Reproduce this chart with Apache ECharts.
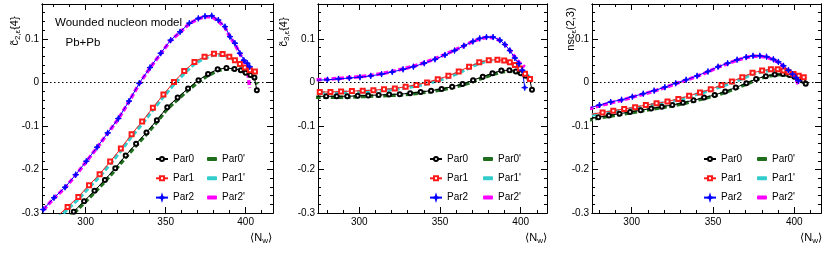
<!DOCTYPE html>
<html><head><meta charset="utf-8">
<script src="https://cdn.jsdelivr.net/npm/echarts@6/dist/echarts.min.js"></script>
<style>html,body{margin:0;padding:0;background:#fff}#c{width:830px;height:256px}</style>
</head><body><div id="c"></div>
<script>
// ---- x positions (<N_w>) of each parameter set ----
const xPar0 = [273, 279.5, 286, 292.5, 299, 305.5, 312, 318.5, 325, 331.5, 338, 344.5, 351, 357.5, 364, 370.5, 376.5, 382.5, 388, 393, 397, 400, 403, 405.5, 407];
const xPar1 = [275.5, 282.1, 288.7, 295.4, 302.1, 308.7, 315.3, 322, 328.7, 335.3, 342, 348.6, 355.2, 361.6, 368, 374.3, 380.2, 385.6, 389.8, 393.3, 396.4, 399.5, 402.7, 405.8];
const xPar2 = [273.5, 280.2, 287.1, 293.8, 300.4, 307.1, 313.8, 320.4, 327.1, 333.5, 340.2, 346.9, 353.1, 359, 364.8, 370.4, 374.6, 378.8, 382.9, 387.1, 390.2, 393.3, 396.4, 398.9, 401, 402.5];

// ---- panel 1: c2,e{4} ----
const c2Par0  = [-0.37, -0.345, -0.321, -0.297, -0.273, -0.249, -0.224, -0.197, -0.168, -0.141, -0.115, -0.087, -0.057, -0.035, -0.014, 0.005, 0.019, 0.030, 0.033, 0.031, 0.028, 0.022, 0.017, 0.011, -0.018];
const c2Par0p = [-0.374, -0.349, -0.325, -0.301, -0.277, -0.253, -0.228, -0.201, -0.172, -0.145, -0.119, -0.091, -0.061, -0.039, -0.018, 0.001, 0.016, 0.027, 0.031, 0.030, 0.027, 0.022, 0.017, 0.011, -0.005];
const c2Par1  = [-0.33, -0.308, -0.286, -0.263, -0.236, -0.211, -0.182, -0.152, -0.119, -0.090, -0.058, -0.028, 0.001, 0.026, 0.047, 0.059, 0.066, 0.065, 0.059, 0.051, 0.042, 0.034, 0.028, 0.025];
const c2Par1p = [-0.335, -0.313, -0.291, -0.268, -0.241, -0.216, -0.187, -0.157, -0.124, -0.095, -0.063, -0.033, -0.004, 0.021, 0.043, 0.056, 0.063, 0.063, 0.058, 0.050, 0.042, 0.034, 0.027, 0.022];
const c2Par2  = [-0.292, -0.265, -0.241, -0.212, -0.181, -0.149, -0.116, -0.083, -0.043, -0.002, 0.034, 0.067, 0.097, 0.116, 0.136, 0.147, 0.152, 0.153, 0.143, 0.128, 0.105, 0.090, 0.067, 0.051, 0.044, 0.036];
const c2Par2p = [-0.293, -0.266, -0.242, -0.213, -0.182, -0.150, -0.117, -0.084, -0.044, -0.003, 0.033, 0.066, 0.096, 0.115, 0.135, 0.146, 0.151, 0.151, 0.141, 0.126, 0.104, 0.088, 0.066, 0.048, 0.035, -0.013];

// ---- panel 2: c3,e{4} ----
const c3Par0  = [-0.032, -0.032, -0.032, -0.032, -0.031, -0.030, -0.029, -0.028, -0.027, -0.025, -0.022, -0.019, -0.015, -0.010, -0.004, 0.005, 0.013, 0.021, 0.027, 0.028, 0.025, 0.021, 0.015, 0.008, -0.017];
const c3Par0p = [-0.034, -0.034, -0.034, -0.034, -0.033, -0.032, -0.031, -0.030, -0.029, -0.027, -0.024, -0.021, -0.017, -0.012, -0.006, 0.002, 0.010, 0.018, 0.024, 0.026, 0.024, 0.020, 0.015, 0.009, 0.002];
const c3Par1  = [-0.022, -0.022, -0.021, -0.020, -0.019, -0.018, -0.016, -0.014, -0.010, -0.006, 0.000, 0.007, 0.015, 0.025, 0.036, 0.046, 0.051, 0.052, 0.050, 0.046, 0.040, 0.032, 0.020, 0.008];
const c3Par1p = [-0.024, -0.024, -0.023, -0.022, -0.021, -0.020, -0.018, -0.016, -0.012, -0.008, -0.003, 0.004, 0.012, 0.022, 0.033, 0.044, 0.050, 0.051, 0.049, 0.045, 0.040, 0.032, 0.022, 0.010];
const c3Par2  = [0.005, 0.006, 0.008, 0.010, 0.012, 0.015, 0.019, 0.024, 0.030, 0.036, 0.044, 0.053, 0.063, 0.073, 0.084, 0.094, 0.101, 0.104, 0.104, 0.097, 0.087, 0.073, 0.056, 0.043, 0.028, -0.012];
const c3Par2p = [0.006, 0.007, 0.009, 0.011, 0.013, 0.016, 0.020, 0.025, 0.031, 0.037, 0.045, 0.054, 0.064, 0.074, 0.084, 0.094, 0.100, 0.103, 0.103, 0.096, 0.087, 0.074, 0.058, 0.046, 0.040, 0.035];

// ---- panel 3: nsc_e(2,3) ----
const nscPar0  = [-0.085, -0.080, -0.076, -0.072, -0.068, -0.064, -0.060, -0.056, -0.052, -0.047, -0.041, -0.035, -0.029, -0.021, -0.012, -0.002, 0.008, 0.014, 0.018, 0.019, 0.017, 0.013, 0.009, 0.004, -0.003];
const nscPar0p = [-0.087, -0.082, -0.078, -0.074, -0.070, -0.066, -0.062, -0.058, -0.054, -0.049, -0.043, -0.037, -0.031, -0.023, -0.014, -0.004, 0.006, 0.013, 0.017, 0.018, 0.016, 0.013, 0.010, 0.006, 0.003];
const nscPar1  = [-0.073, -0.069, -0.065, -0.061, -0.057, -0.052, -0.048, -0.044, -0.038, -0.031, -0.023, -0.016, -0.006, 0.002, 0.012, 0.022, 0.027, 0.030, 0.030, 0.027, 0.023, 0.019, 0.015, 0.012];
const nscPar1p = [-0.075, -0.071, -0.067, -0.063, -0.059, -0.054, -0.050, -0.046, -0.040, -0.033, -0.025, -0.018, -0.009, -0.001, 0.009, 0.019, 0.025, 0.028, 0.028, 0.026, 0.022, 0.018, 0.014, 0.010];
const nscPar2  = [-0.059, -0.052, -0.045, -0.040, -0.033, -0.026, -0.019, -0.011, -0.002, 0.006, 0.015, 0.025, 0.036, 0.044, 0.052, 0.058, 0.061, 0.061, 0.059, 0.053, 0.047, 0.038, 0.028, 0.019, 0.011, 0.004];
const nscPar2p = [-0.061, -0.054, -0.047, -0.041, -0.034, -0.027, -0.020, -0.012, -0.003, 0.005, 0.014, 0.024, 0.035, 0.043, 0.051, 0.057, 0.060, 0.060, 0.058, 0.052, 0.046, 0.037, 0.026, 0.016, 0.006, -0.004];

// ---- ticks ----
const xMajorTicks = [300, 350, 400];
const xMinorTicks = [280, 290, 310, 320, 330, 340, 360, 370, 380, 390, 410];
const yMajorTicks = [-0.3, -0.2, -0.1, 0, 0.1];
const yMinorTicks = [-0.28, -0.26, -0.24, -0.22, -0.18, -0.16, -0.14, -0.12, -0.08, -0.06, -0.04, -0.02, 0.02, 0.04, 0.06, 0.08, 0.12, 0.14, 0.16];

const seriesNames = ['Par0', 'Par1', 'Par2', "Par0'", "Par1'", "Par2'"];

const FONT = '"Liberation Sans", Arial, Helvetica, sans-serif';
const COL = {p0: '#000000', p1: '#ff1a1a', p2: '#0000ff', p0p: '#1e6e1e', p1p: '#33cccc', p2p: '#ff00ff'};
const STAR = 'path://M5,0L6.2,3.8L10,5L6.2,6.2L5,10L3.8,6.2L0,5L3.8,3.8Z';

const panels = [
  {grid: {left: 42, top: 4, width: 231, height: 209}, xr: [272.7, 417.1],
   d: [c2Par0, c2Par1, c2Par2, c2Par0p, c2Par1p, c2Par2p], leg: [155, 207]},
  {grid: {left: 318, top: 4, width: 229, height: 209}, xr: [274.4, 416.3],
   d: [c3Par0, c3Par1, c3Par2, c3Par0p, c3Par1p, c3Par2p], leg: [429, 483]},
  {grid: {left: 592, top: 4, width: 229, height: 209}, xr: [275.6, 416.4],
   d: [nscPar0, nscPar1, nscPar2, nscPar0p, nscPar1p, nscPar2p], leg: [703, 757]}
];
const Y_RANGE = [-0.3, 0.18];

function axis(kind, k, range, pos, ticks, len, labels) {
  return {
    type: 'value', gridIndex: k, min: range[0], max: range[1], position: pos,
    axisLine: {show: true, onZero: false, lineStyle: {color: '#000', width: 1}},
    axisTick: {show: true, inside: true, length: len, customValues: ticks, lineStyle: {color: '#000', width: 1}},
    axisLabel: {show: labels, customValues: ticks, margin: kind === 'x' ? 4 : 3, color: '#000', fontSize: 10, fontFamily: FONT},
    splitLine: {show: false}, minorTick: {show: false}, silent: true
  };
}

const grids = [], xAxes = [], yAxes = [], series = [], legends = [];
panels.forEach((p, k) => {
  grids.push(Object.assign({containLabel: false}, p.grid));
  xAxes.push(axis('x', k, p.xr, 'bottom', xMajorTicks, 6, true));
  xAxes.push(axis('x', k, p.xr, 'bottom', xMinorTicks, 3, false));
  xAxes.push(axis('x', k, p.xr, 'top', xMajorTicks, 6, false));
  xAxes.push(axis('x', k, p.xr, 'top', xMinorTicks, 3, false));
  yAxes.push(axis('y', k, Y_RANGE, 'left', yMajorTicks, 6, true));
  yAxes.push(axis('y', k, Y_RANGE, 'left', yMinorTicks, 3, false));
  yAxes.push(axis('y', k, Y_RANGE, 'right', yMajorTicks, 6, false));
  yAxes.push(axis('y', k, Y_RANGE, 'right', yMinorTicks, 3, false));
  const xs = [xPar0, xPar1, xPar2, xPar0, xPar1, xPar2];
  const cols = [COL.p0, COL.p1, COL.p2, COL.p0p, COL.p1p, COL.p2p];
  [3, 4, 5, 0, 1, 2].forEach(j => {
    const data = xs[j].map((x, i) => [x, p.d[j][i]]);
    const primed = j >= 3;
    const s = {
      type: 'line', name: seriesNames[j], xAxisIndex: 4 * k, yAxisIndex: 4 * k,
      data, color: cols[j], clip: true, animation: false, silent: true,
      z: primed ? 2 : 3,
      lineStyle: primed ? {width: 3.5, type: [5, 2.5], color: cols[j]} : {width: 1, color: cols[j]},
    };
    if (primed) { s.symbol = 'none'; s.showSymbol = false; }
    else {
      s.symbol = j === 0 ? 'emptyCircle' : (j === 1 ? 'emptyRect' : STAR);
      s.symbolSize = j === 2 ? 6 : 4;
      s.itemStyle = {color: cols[j], borderColor: cols[j], borderWidth: 0.9};
    }
    if (j === 3) {
      s.markLine = {silent: true, symbol: ['none', 'none'], animation: false,
        label: {show: false}, lineStyle: {color: '#000', width: 1, type: [1.5, 2.5]},
        data: [{yAxis: 0}]};
    }
    series.push(s);
  });
  legends.push({data: seriesNames.slice(0, 3), orient: 'vertical', left: p.leg[0], top: 153,
    itemWidth: 12, itemHeight: 5, itemGap: 7.3, padding: 0, selectedMode: false,
    textStyle: {fontSize: 10, fontFamily: FONT, color: '#000', lineHeight: 12}});
  legends.push({data: seriesNames.slice(3), orient: 'vertical', left: p.leg[1], top: 153,
    icon: 'roundRect', itemWidth: 10, itemHeight: 4, itemGap: 7.3, padding: 0, selectedMode: false,
    textStyle: {fontSize: 10, fontFamily: FONT, color: '#000', lineHeight: 12}});
});

const sub = {fontSize: 8, fontFamily: FONT, fill: '#000', verticalAlign: 'bottom', lineHeight: 6};
function ylab(x, y, text) {
  return {type: 'text', x, y, rotation: Math.PI / 2, silent: true,
    style: {text, fontSize: 11, fontFamily: FONT, fill: '#000', align: 'center', verticalAlign: 'middle', lineHeight: 13, rich: {s: sub}}};
}
function xlab(x, y) {
  return {type: 'text', x, y, silent: true,
    style: {text: '\u27E8N{s|w}\u27E9', fontSize: 11, fontFamily: FONT, fill: '#000', align: 'right', verticalAlign: 'middle', lineHeight: 13, rich: {s: sub}}};
}

const graphic = [
  {type: 'text', x: 55, y: 23, silent: true, style: {text: 'Wounded nucleon model', fontSize: 11.5, fontFamily: FONT, fill: '#000', verticalAlign: 'middle'}},
  {type: 'text', x: 65.5, y: 43, silent: true, style: {text: 'Pb+Pb', fontSize: 11.5, fontFamily: FONT, fill: '#000', verticalAlign: 'middle'}},
  ylab(15, 31, 'c\u0303{s|2,\u03B5}{4}'),
  ylab(284, 32, 'c\u0303{s|3,\u03B5}{4}'),
  ylab(571, 29, 'nsc{s|\u03B5}(2,3)'),
  xlab(272, 238),
  xlab(547, 238),
  xlab(822, 238)
];

const chart = echarts.init(document.getElementById('c'), null, {renderer: 'canvas'});
chart.setOption({
  animation: false, backgroundColor: '#fff',
  grid: grids, xAxis: xAxes, yAxis: yAxes, series, legend: legends, graphic
});
</script></body></html>
